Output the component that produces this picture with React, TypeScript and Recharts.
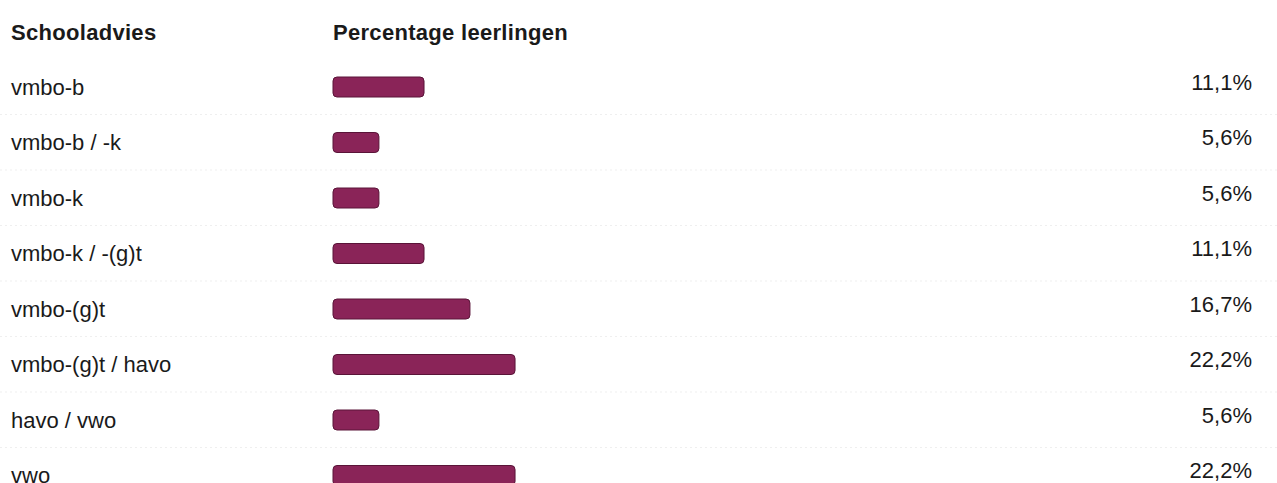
import React from 'react';
import { BarChart, Bar, XAxis, YAxis, CartesianGrid } from 'recharts';

const categories = [
  'vmbo-b',
  'vmbo-b / -k',
  'vmbo-k',
  'vmbo-k / -(g)t',
  'vmbo-(g)t',
  'vmbo-(g)t / havo',
  'havo / vwo',
  'vwo',
];
const percentages = [11.1, 5.6, 5.6, 11.1, 16.7, 22.2, 5.6, 22.2];
const percentLabels = ['11,1%', '5,6%', '5,6%', '11,1%', '16,7%', '22,2%', '5,6%', '22,2%'];
const headers = ['Schooladvies', 'Percentage leerlingen'];

const data = categories.map((name, i) => ({ name, value: percentages[i] }));

const FONT = '"Liberation Sans", Arial, Helvetica, sans-serif';
const TEXT = '#1a1a1a';
const BAR_FILL = '#8a2458';
const BAR_STROKE = '#5a1438';

const LeftTick = (props: any) => {
  const { y, payload } = props;
  return (
    <text x={11} y={y} dy="0.36em" textAnchor="start" fill={TEXT} fontSize={22} fontFamily={FONT}>
      {payload.value}
    </text>
  );
};

const RightTick = (props: any) => {
  const { x, y, index } = props;
  return (
    <text x={x + 91} y={y - 5} dy="0.36em" textAnchor="end" fill={TEXT} fontSize={22} fontFamily={FONT}>
      {percentLabels[index]}
    </text>
  );
};

const gridGen = ({ offset }: any) => {
  const n = categories.length;
  const band = offset.height / n;
  const out: number[] = [];
  for (let i = 1; i < n; i++) out.push(offset.top + band * i);
  return out;
};

export default function App() {
  const headStyle: React.CSSProperties = {
    position: 'absolute',
    top: 20,
    fontFamily: FONT,
    fontWeight: 700,
    fontSize: 22,
    color: TEXT,
    letterSpacing: 0.3,
    whiteSpace: 'nowrap',
  };
  return (
    <div style={{ position: 'absolute', left: 0, top: 0, width: 1277, height: 483, overflow: 'hidden', background: '#fff' }}>
      <div style={{ ...headStyle, left: 11 }}>{headers[0]}</div>
      <div style={{ ...headStyle, left: 333 }}>{headers[1]}</div>
      <div style={{ position: 'absolute', left: 0, top: 0 }}>
        <BarChart
          width={1277}
          height={503}
          layout="vertical"
          data={data}
          margin={{ top: 59, right: 0, bottom: 0, left: 0 }}
          barSize={20}
        >
          <CartesianGrid
            vertical={false}
            horizontal
            x={0}
            width={1277}
            stroke="#efefef"
            strokeDasharray="2 3"
            horizontalCoordinatesGenerator={gridGen}
          />
          <XAxis type="number" domain={[0, 100]} hide />
          <YAxis
            yAxisId={0}
            type="category"
            dataKey="name"
            width={333}
            axisLine={false}
            tickLine={false}
            tick={<LeftTick />}
            interval={0}
          />
          <YAxis
            yAxisId="right"
            orientation="right"
            type="category"
            dataKey="name"
            width={124}
            axisLine={false}
            tickLine={false}
            tick={<RightTick />}
            interval={0}
          />
          <Bar
            yAxisId={0}
            dataKey="value"
            fill={BAR_FILL}
            stroke={BAR_STROKE}
            strokeWidth={1}
            radius={4}
            isAnimationActive={false}
          />
        </BarChart>
      </div>
    </div>
  );
}
